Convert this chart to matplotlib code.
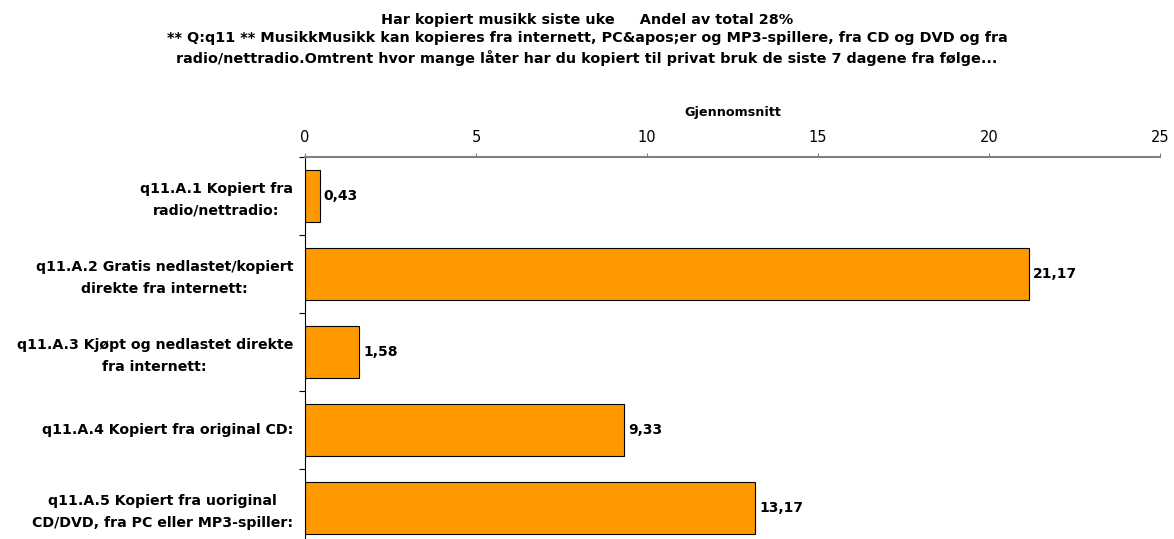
import matplotlib.pyplot as plt
import matplotlib.transforms as mtransforms
import numpy as np

plt.rcParams['font.family'] = ['DejaVu Sans']

# data
categories = [
    "q11.A.1 Kopiert fra\nradio/nettradio:",
    "q11.A.2 Gratis nedlastet/kopiert\ndirekte fra internett:",
    "q11.A.3 Kjøpt og nedlastet direkte\nfra internett:",
    "q11.A.4 Kopiert fra original CD:",
    "q11.A.5 Kopiert fra uoriginal\nCD/DVD, fra PC eller MP3-spiller:",
]
values = [0.43, 21.17, 1.58, 9.33, 13.17]
value_labels = ["0,43", "21,17", "1,58", "9,33", "13,17"]
x_ticks = [0, 5, 10, 15, 20, 25]

title = ("Har kopiert musikk siste uke     Andel av total 28%\n"
         "** Q:q11 ** MusikkMusikk kan kopieres fra internett, PC&apos;er og MP3-spillere, fra CD og DVD og fra\n"
         "radio/nettradio.Omtrent hvor mange låter har du kopiert til privat bruk de siste 7 dagene fra følge...")

W, H = 1174, 539
fig = plt.figure(figsize=(W / 100, H / 100), dpi=100)
ax = fig.add_axes([305 / W, (H - 547) / H, (1160 - 305) / W, (547 - 157) / H])

y = np.arange(len(categories))
ax.barh(y, values, height=0.655, color='#FF9900', edgecolor='black', linewidth=0.8)
ax.set_xlim(0, 25)
ax.set_ylim(len(categories) - 0.5, -0.5)

for yi, v, lab in zip(y, values, value_labels):
    ax.annotate(lab, (v, yi), xytext=(3, 0), textcoords='offset points',
                va='center', ha='left', fontsize=10, fontweight='bold')

# x axis on top
ax.xaxis.tick_top()
ax.xaxis.set_label_position('top')
ax.set_xticks(x_ticks)
ax.set_xticklabels([str(t) for t in x_ticks])
ax.tick_params(axis='x', direction='out', length=3, width=0.8, color='#808080',
               labelsize=10.5, pad=5.5)
ax.set_xlabel("Gjennomsnitt", fontsize=9.2, fontweight='bold', labelpad=10.5)

# y axis: labels at centres, tick marks between categories
ax.set_yticks(y)
ax.set_yticklabels(categories, fontsize=10.2, fontweight='bold', ha='center',
                   linespacing=1.75)
ax.tick_params(axis='y', which='major', length=0, pad=0)
ax.set_yticks(np.arange(len(categories) + 1) - 0.5, minor=True)
ax.tick_params(axis='y', which='minor', direction='out', length=4, width=0.8)

for s in ['right', 'bottom']:
    ax.spines[s].set_visible(False)
ax.spines['top'].set_color('#808080')
ax.spines['top'].set_linewidth(1.5)
ax.spines['left'].set_color('black')
ax.spines['left'].set_linewidth(0.8)

# centre multi-line category labels, right edge near x=293px
fig.draw_without_rendering()
renderer = fig.canvas.get_renderer()
for lbl in ax.get_yticklabels():
    bb = lbl.get_window_extent(renderer)
    shift = (293 - bb.x1) / 100
    lbl.set_transform(lbl.get_transform() + mtransforms.ScaledTranslation(shift, 0.02, fig.dpi_scale_trans))

fig.text(0.5, 1 - 13 / H, title, ha='center', va='top', fontsize=10.4,
         fontweight='bold', linespacing=1.36)

fig.savefig('out.png', dpi=100)
